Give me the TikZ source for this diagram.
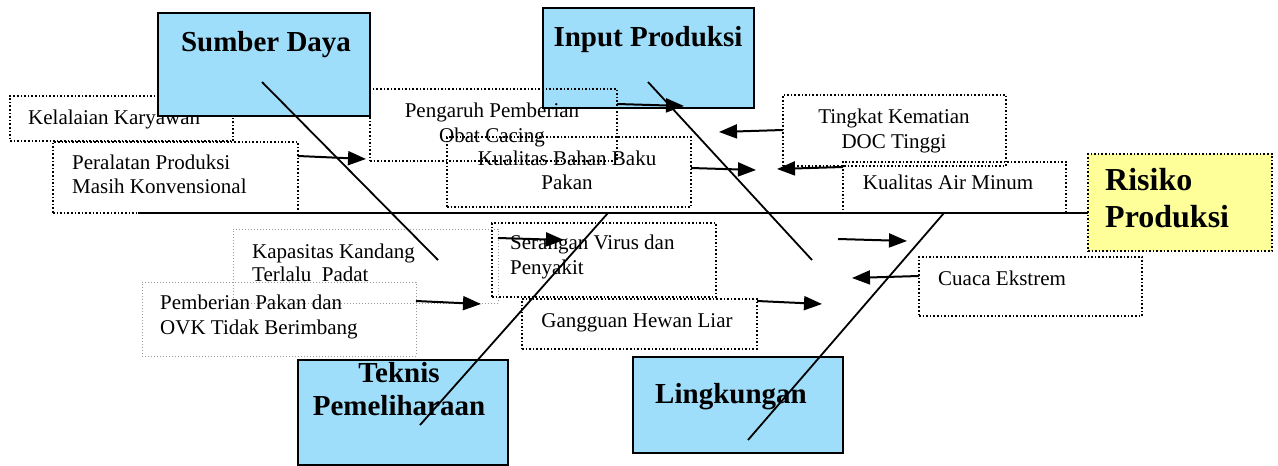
\documentclass[tikz,border=0pt]{standalone}
\usepackage{fontspec}
\setmainfont{Liberation Serif}
\usetikzlibrary{arrows.meta}
\definecolor{catblue}{RGB}{158,222,250}
\definecolor{riskyellow}{RGB}{255,255,153}
\begin{document}
\begin{tikzpicture}[x=1pt,y=-1pt,
  dotbox/.style={draw=black, dotted, line width=1.6pt, inner sep=0pt, outer sep=0pt, anchor=north west},
  graybox/.style={draw=black!40, dotted, line width=1pt, inner sep=0pt, outer sep=0pt, anchor=north west},
  catbox/.style={draw=black, line width=2.2pt, fill=catblue, inner sep=0pt, outer sep=0pt, anchor=north west},
  riskbox/.style={draw=black, dotted, line width=1.6pt, fill=riskyellow, inner sep=0pt, outer sep=0pt, anchor=north west},
  txt/.style={font=\fontsize{21}{24}\selectfont, inner sep=0pt},
  cattxt/.style={font=\fontsize{29}{33}\selectfont\bfseries, inner sep=0pt},
  risktxt/.style={font=\fontsize{32}{36}\selectfont\bfseries, inner sep=0pt},
  bone/.style={line width=1.8pt},
  arr/.style={line width=2pt, -{Triangle[length=18pt,width=14pt]}}]
\useasboundingbox (0,0) rectangle (1278,466);

% Kelalaian Karyawan (under Sumber Daya)
\node[dotbox, minimum width=223pt, minimum height=45pt] (kel) at (10,96) {};
\node[txt, anchor=base west] (kelt) at (28,124) {Kelalaian Karyawan};

% category boxes (top)
\node[catbox, minimum width=212pt, minimum height=103pt] (sd) at (158,13) {};
\node[cattxt, anchor=base] (sdt) at (266,51) {Sumber Daya};
\node[catbox, minimum width=211pt, minimum height=100pt] (ip) at (543,8) {};
\node[cattxt, anchor=base] (ipt) at (648,46) {Input Produksi};

% Pengaruh Pemberian Obat Cacing
\node[dotbox, minimum width=247pt, minimum height=72pt] (peng) at (370,89) {};
\node[txt, anchor=base] (peng1) at (492,117) {Pengaruh Pemberian};
\node[txt, anchor=base] (peng2) at (492,142) {Obat Cacing};

% Kualitas Bahan Baku Pakan
\node[dotbox, minimum width=244pt, minimum height=70pt] (kbb) at (447,137) {};
\node[txt, anchor=base] (kbb1) at (567,165) {Kualitas Bahan Baku};
\node[txt, anchor=base] (kbb2) at (567,189) {Pakan};

% Peralatan Produksi
\node[dotbox, minimum width=245pt, minimum height=71pt] (per) at (53,142) {};
\node[txt, anchor=base west] (per1) at (72,169) {Peralatan Produksi};
\node[txt, anchor=base west] (per2) at (72,193) {Masih Konvensional};

% Tingkat Kematian DOC Tinggi
\node[dotbox, minimum width=223pt, minimum height=71pt] (tk) at (783,95) {};
\node[txt, anchor=base] (tk1) at (894,123) {Tingkat Kematian};
\node[txt, anchor=base] (tk2) at (894,148) {DOC Tinggi};

% Kualitas Air Minum
\node[dotbox, minimum width=223pt, minimum height=51pt] (kam) at (843,162) {};
\node[txt, anchor=base] (kamt) at (948,189) {Kualitas Air Minum};

% Kapasitas Kandang (gray)
\node[graybox, minimum width=265pt, minimum height=74pt] (kap) at (233,229) {};
\node[txt, anchor=base west] (kap1) at (252,258) {Kapasitas Kandang};
\node[txt, anchor=base west] (kap2) at (252,281) {Terlalu\ \ Padat};

% Pemberian Pakan (gray)
\node[graybox, minimum width=274pt, minimum height=74pt] (pp) at (142,282) {};
\node[txt, anchor=base west] (pp1) at (160,309) {Pemberian Pakan dan};
\node[txt, anchor=base west] (pp2) at (160,334) {OVK Tidak Berimbang};

% Serangan Virus dan Penyakit
\node[dotbox, minimum width=224pt, minimum height=74pt] (sv) at (492,223) {};
\node[txt, anchor=base west] (sv1) at (510,249) {Serangan Virus dan};
\node[txt, anchor=base west] (sv2) at (510,274) {Penyakit};

% Gangguan Hewan Liar
\node[dotbox, minimum width=235pt, minimum height=50pt] (ghl) at (522,299) {};
\node[txt, anchor=base] (ghlt) at (637,327) {Gangguan Hewan Liar};

% Cuaca Ekstrem
\node[dotbox, minimum width=223pt, minimum height=59pt] (ce) at (919,257) {};
\node[txt, anchor=base west] (cet) at (938,285) {Cuaca Ekstrem};

% category boxes (bottom)
\node[catbox, minimum width=210pt, minimum height=105pt] (tp) at (298,360) {};
\node[cattxt, anchor=base] (tp1) at (399,382) {Teknis};
\node[cattxt, anchor=base] (tp2) at (399,415) {Pemeliharaan};
\node[catbox, minimum width=210pt, minimum height=96pt] (lk) at (633,357) {};
\node[cattxt, anchor=base] (lkt) at (731,403) {Lingkungan};

% Risiko Produksi
\node[riskbox, minimum width=184pt, minimum height=97pt] (rp) at (1088,154) {};
\node[risktxt, anchor=base west] (rp1) at (1105,190) {Risiko};
\node[risktxt, anchor=base west] (rp2) at (1105,227) {Produksi};

% spine and bones
\coordinate (sp0) at (138,213);
\draw[bone] (sp0) -- (rp.west |- sp0);
\coordinate (b1a) at (262,82);  \coordinate (b1b) at (438,260);
\coordinate (b2a) at (648,82);  \coordinate (b2b) at (812,260);
\coordinate (b3a) at (608,213); \coordinate (b3b) at (420,425);
\coordinate (b4a) at (944,213); \coordinate (b4b) at (748,440);
\draw[bone] (b1a) -- (b1b);
\draw[bone] (b2a) -- (b2b);
\draw[bone] (b3a) -- (b3b);
\draw[bone] (b4a) -- (b4b);

% arrows
\coordinate (a1s) at (298,156); \coordinate (a1e) at (366,159);
\coordinate (a2s) at (617,104); \coordinate (a2e) at (684,106);
\coordinate (a3s) at (691,168); \coordinate (a3e) at (756,170);
\coordinate (a4s) at (783,130); \coordinate (a4e) at (719,132);
\coordinate (a5s) at (843,167); \coordinate (a5e) at (777,169);
\coordinate (a6s) at (838,239); \coordinate (a6e) at (907,241);
\coordinate (a7s) at (919,276); \coordinate (a7e) at (852,278);
\coordinate (a8s) at (498,238); \coordinate (a8e) at (564,240);
\coordinate (a9s) at (416,301); \coordinate (a9e) at (481,304);
\coordinate (a10s) at (757,301); \coordinate (a10e) at (822,304);
\draw[arr] (a1s) -- (a1e);
\draw[arr] (a2s) -- (a2e);
\draw[arr] (a3s) -- (a3e);
\draw[arr] (a4s) -- (a4e);
\draw[arr] (a5s) -- (a5e);
\draw[arr] (a6s) -- (a6e);
\draw[arr] (a7s) -- (a7e);
\draw[arr] (a8s) -- (a8e);
\draw[arr] (a9s) -- (a9e);
\draw[arr] (a10s) -- (a10e);
\end{tikzpicture}
\end{document}
